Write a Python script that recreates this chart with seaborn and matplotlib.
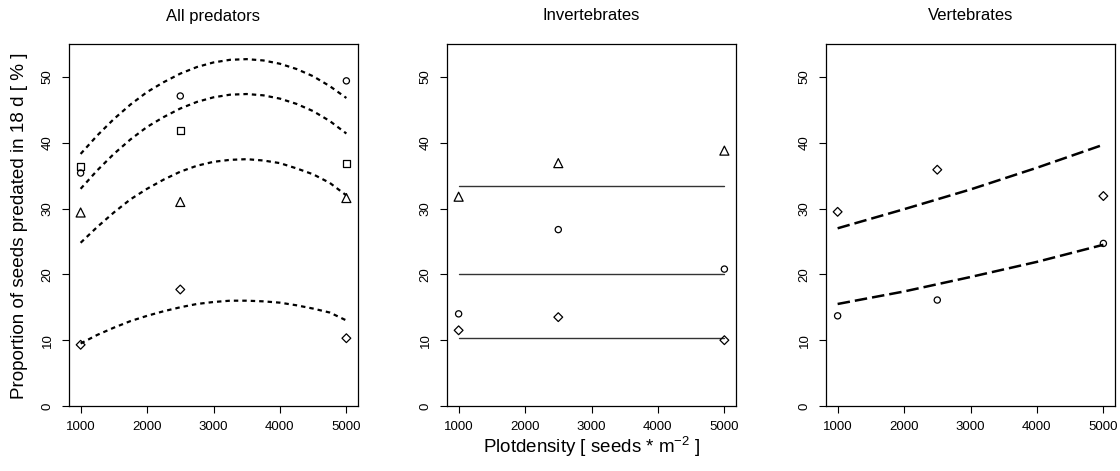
import matplotlib
matplotlib.use("Agg")
import matplotlib.pyplot as plt
import seaborn as sns
import pandas as pd

# ---------------- data ----------------
density = [1000, 2500, 5000]

# Panel 1: All predators (observed points)
all_circle = [35.4, 47.1, 49.4]
all_square = [36.4, 41.8, 36.8]
all_triangle = [29.4, 31.0, 31.6]
all_diamond = [9.3, 17.7, 10.3]

# Panel 1: fitted curves read at these densities
curve_x = [1000, 1250, 1500, 1750, 2000, 2250, 2500, 2750, 3000,
           3250, 3500, 3750, 4000, 4250, 4500, 4750, 5000]
all_fit1 = [38.3, 41.1, 43.6, 45.8, 47.7, 49.2, 50.5, 51.5, 52.2,
            52.6, 52.7, 52.5, 52.0, 51.2, 50.1, 48.6, 46.8]
all_fit2 = [33.0, 35.8, 38.3, 40.5, 42.4, 43.9, 45.2, 46.2, 46.9,
            47.3, 47.4, 47.2, 46.7, 45.9, 44.8, 43.3, 41.4]
all_fit3 = [24.8, 27.2, 29.4, 31.4, 33.0, 34.4, 35.6, 36.5, 37.1,
            37.4, 37.5, 37.3, 36.9, 36.1, 35.2, 33.9, 32.0]
all_fit4 = [9.5, 10.8, 11.9, 12.9, 13.7, 14.4, 15.0, 15.5, 15.8,
            16.0, 16.0, 15.9, 15.7, 15.3, 14.8, 14.2, 13.0]

# Panel 2: Invertebrates
inv_triangle = [31.8, 36.9, 38.8]
inv_circle = [14.0, 26.8, 20.8]
inv_diamond = [11.5, 13.5, 10.0]
inv_x = [1000, 5000]
inv_fit1 = [33.4, 33.4]
inv_fit2 = [20.0, 20.0]
inv_fit3 = [10.3, 10.3]

# Panel 3: Vertebrates
vert_diamond = [29.5, 35.9, 31.9]
vert_circle = [13.7, 16.1, 24.7]
vert_x = [1000, 2000, 3000, 4000, 5000]
vert_fit1 = [27.0, 29.9, 32.9, 36.2, 39.7]
vert_fit2 = [15.5, 17.4, 19.6, 21.9, 24.5]

titles = ["All predators", "Invertebrates", "Vertebrates"]
xticks = [1000, 2000, 3000, 4000, 5000]
yticks = [0, 10, 20, 30, 40, 50]
ylabel = "Proportion of seeds predated in 18 d [ % ]"
xlabel = r"Plotdensity [ seeds * m$^{-2}$ ]"

# ---------------- style ----------------
sns.set_theme(style="white")
plt.rcParams["font.family"] = ["Liberation Sans", "DejaVu Sans"]
plt.rcParams["mathtext.fontset"] = "custom"
plt.rcParams["mathtext.rm"] = "Liberation Sans"
plt.rcParams["mathtext.it"] = "Liberation Sans"
plt.rcParams["text.color"] = "black"
plt.rcParams["xtick.color"] = "black"
plt.rcParams["ytick.color"] = "black"
plt.rcParams["xtick.labelcolor"] = "black"
plt.rcParams["ytick.labelcolor"] = "black"

fig = plt.figure(figsize=(11.2, 4.71), dpi=100)
W, H = 1120, 471
lefts = [69, 447, 826]
width = 289
bottom_px, top_px = 406, 44
axes = [fig.add_axes([l / W, (H - bottom_px) / H, width / W, (bottom_px - top_px) / H]) for l in lefts]

msizes = {"o": 20, "s": 24, "^": 42, "D": 20}


def pts(ax, ys, marker):
    df = pd.DataFrame({"x": density, "y": ys})
    sns.scatterplot(data=df, x="x", y="y", ax=ax, marker=marker, s=msizes[marker],
                    facecolor="none", edgecolor="black", linewidth=0.9, zorder=3)


def line(ax, xs, ys, ls, lw, color="black"):
    df = pd.DataFrame({"x": xs, "y": ys})
    sns.lineplot(data=df, x="x", y="y", ax=ax, color=color, linewidth=lw, linestyle=ls,
                 estimator=None, sort=False, zorder=2)


ax1, ax2, ax3 = axes
short = (0, (2.0, 1.8))
for f in [all_fit1, all_fit2, all_fit3, all_fit4]:
    line(ax1, curve_x, f, short, 1.6)
pts(ax1, all_circle, "o")
pts(ax1, all_square, "s")
pts(ax1, all_triangle, "^")
pts(ax1, all_diamond, "D")

for f in [inv_fit1, inv_fit2, inv_fit3]:
    line(ax2, inv_x, f, "-", 1.0, color="#333333")
pts(ax2, inv_triangle, "^")
pts(ax2, inv_circle, "o")
pts(ax2, inv_diamond, "D")

longd = (0, (5, 2))
for f in [vert_fit1, vert_fit2]:
    line(ax3, vert_x, f, longd, 1.8)
pts(ax3, vert_diamond, "D")
pts(ax3, vert_circle, "o")

for ax, t in zip(axes, titles):
    ax.set_xlim(825, 5175)
    ax.set_ylim(0, 55)
    ax.set_xticks(xticks)
    ax.set_yticks(yticks)
    ax.set_xticklabels([str(v) for v in xticks], fontsize=9.5)
    ax.set_yticklabels([str(v) for v in yticks], fontsize=9.5, rotation=90, va="center")
    ax.tick_params(axis="both", direction="out", length=5, width=0.8, color="black",
                   labelcolor="black", bottom=True, left=True)
    ax.tick_params(axis="x", pad=6)
    ax.tick_params(axis="y", pad=6)
    for sp in ax.spines.values():
        sp.set_visible(True)
        sp.set_color("black")
        sp.set_linewidth(0.9)
    ax.set_xlabel("")
    ax.set_ylabel("")
    ax.set_facecolor("white")

for ax, t, l in zip(axes, titles, lefts):
    fig.text((l + width / 2) / W, 1 - 16 / H, t, ha="center", va="center", fontsize=12, color="black")

fig.text(20 / W, 0.5 + (H / 2 - 226) / H, ylabel, rotation=90, ha="center", va="center",
         fontsize=13.6, color="black")
fig.text((447 + width / 2) / W, 1 - 447 / H, xlabel, ha="center", va="center", fontsize=13.5,
         color="black")

fig.savefig("out.png", dpi=100, facecolor="white")
